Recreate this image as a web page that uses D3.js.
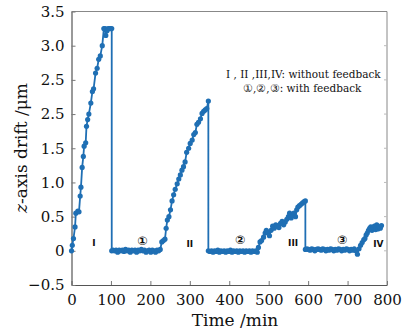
<!DOCTYPE html>
<html>
<head>
<meta charset="utf-8">
<script src="https://cdn.jsdelivr.net/npm/d3@7"></script>
<style>
  html, body { margin: 0; padding: 0; background: #fff; }
  svg { display: block; }
</style>
</head>
<body>
<div id="chart"></div>
<script>
// segments of the drift curve, [time (min), drift (um)]
const segI = [[0,0],[2,0.08],[5,0.18],[9,0.35],[11,0.55],[16,0.58],[19,0.57],[22,0.8],[24,0.93],[27,1.22],[30,1.38],[32,1.53],[36,1.58],[38,1.82],[41,1.92],[44,2.0],[49,2.16],[53,2.33],[56,2.37],[61,2.6],[65,2.67],[69,2.8],[73,2.85],[78,3.0],[82,3.25],[85,3.25],[87,3.15],[90,3.22],[93,3.25],[96,3.25],[99,3.25],[102,3.25]];
const seg1 = [[102,0],[105,0.01],[109,0],[113,0.01],[117,-0.02],[121,0.01],[125,0],[129,0.01],[133,-0.01],[137,0.02],[141,0],[145,0.01],[149,-0.02],[153,0.01],[157,0],[161,0.01],[165,-0.02],[169,0.01],[173,0],[177,0.02],[181,0],[185,0.01],[189,-0.02],[193,0],[197,0.01],[201,-0.02],[205,0.01],[209,0],[213,-0.02],[217,0.01],[221,0],[225,0.02]];
const segII = [[229,0.13],[233,0.15],[237,0.17],[240,0.33],[243,0.45],[247,0.5],[251,0.6],[255,0.73],[259,0.82],[263,0.9],[268,0.98],[272,1.05],[276,1.11],[280,1.18],[284,1.23],[288,1.3],[292,1.44],[297,1.5],[301,1.57],[306,1.62],[310,1.7],[314,1.73],[318,1.85],[322,1.88],[327,1.93],[331,2.01],[335,2.04],[339,2.06],[343,2.08],[347,2.19]];
const seg2 = [[347,0],[351,-0.01],[355,0],[359,-0.02],[363,0],[367,-0.01],[371,0.01],[375,-0.02],[379,0],[383,-0.01],[387,0],[391,-0.02],[395,0],[399,-0.01],[403,0.01],[407,-0.02],[411,0],[415,-0.01],[419,0],[423,-0.02],[427,0],[431,-0.01],[435,0],[439,-0.02],[443,0],[447,-0.01],[451,0],[455,-0.02],[459,0],[463,-0.01],[467,0],[471,-0.02]];
const segIII = [[474,0.05],[478,0.13],[482,0.15],[487,0.2],[491,0.26],[494,0.3],[498,0.27],[502,0.22],[506,0.3],[510,0.36],[514,0.33],[518,0.38],[522,0.36],[526,0.34],[530,0.4],[534,0.43],[538,0.38],[542,0.42],[546,0.46],[550,0.5],[553,0.55],[557,0.48],[561,0.52],[564,0.55],[568,0.5],[571,0.6],[574,0.64],[578,0.66],[582,0.68],[586,0.7],[590,0.72],[593,0.73]];
const seg3 = [[593,0.02],[597,0.03],[601,0.02],[605,0.01],[609,0.03],[613,0.02],[617,0],[621,0.02],[625,0.03],[629,0.02],[633,0.01],[637,0.03],[641,0.02],[645,0],[649,0.02],[653,0.01],[657,0.03],[661,0.02],[665,0],[669,0.02],[673,0.01],[677,0.03],[681,0.02],[685,0],[689,0.02],[693,0.01],[697,0.03],[701,0.02],[705,0],[709,0.02],[713,0.01],[717,0.03],[721,0],[725,-0.05]];
const segIV = [[729,0.03],[733,0.08],[737,0.12],[741,0.16],[744,0.18],[747,0.23],[750,0.26],[753,0.3],[756,0.33],[759,0.35],[762,0.3],[765,0.34],[768,0.36],[771,0.31],[774,0.38],[777,0.32],[780,0.35],[783,0.33],[786,0.37]];

const xTicks = [0, 100, 200, 300, 400, 500, 600, 700, 800];
const yTicks = [-0.5, 0, 0.5, 1.0, 1.5, 2.0, 2.5, 3.0, 3.5];
const yTickLabels = ['\u22120.5', '0', '0.5', '1.0', '1.5', '2.5', '2.5', '3.0', '3.5'];

// region labels [time, drift, text]
const romanLabels = [[57, 0.07, 'I'], [300, 0.06, 'II'], [562, 0.07, 'III'], [778, 0.05, 'IV']];
const circledLabels = [[180, 0.08, '\u2460'], [428, 0.1, '\u2461'], [687, 0.1, '\u2462']];
const legendLines = ['I , II ,III,IV: without feedback', '\u2460,\u2461,\u2462: with feedback'];

const W = 415, H = 332;
const color = '#1f6fb4';
const serif = '"DejaVu Serif", "Liberation Serif", serif';

const svg = d3.select('#chart').append('svg')
    .attr('width', W).attr('height', H)
    .attr('viewBox', `0 0 ${W} ${H}`);

const x = d3.scaleLinear().domain([0, 800]).range([71.5, 387]);
const y = d3.scaleLinear().domain([-0.5, 3.5]).range([285, 11.5]);

// frame: top/right lighter
svg.append('line').attr('x1', x(0)).attr('x2', x(800)).attr('y1', y(3.5)).attr('y2', y(3.5))
    .attr('stroke', '#888').attr('stroke-width', 1);
svg.append('line').attr('x1', x(800)).attr('x2', x(800)).attr('y1', y(3.5)).attr('y2', y(-0.5))
    .attr('stroke', '#888').attr('stroke-width', 1);

// bottom axis
const xAxis = svg.append('g').attr('transform', `translate(0,${y(-0.5)})`)
    .call(d3.axisBottom(x).tickValues(xTicks).tickSizeInner(-4).tickSizeOuter(0).tickPadding(9));
// left axis
const yAxis = svg.append('g').attr('transform', `translate(${x(0)},0)`)
    .call(d3.axisLeft(y).tickValues(yTicks).tickSizeInner(-4).tickSizeOuter(0).tickPadding(7)
        .tickFormat((d, i) => yTickLabels[i]));

[xAxis, yAxis].forEach(a => {
    a.select('.domain').attr('stroke', '#555').attr('stroke-width', 1.2);
    a.selectAll('.tick line').attr('stroke', '#777');
    a.selectAll('.tick text').attr('fill', '#111').attr('font-family', serif).attr('font-size', '15px');
});

// right side ticks
svg.append('g').selectAll('line').data(yTicks.slice(1, -1)).join('line')
    .attr('x1', x(800)).attr('x2', x(800) - 3)
    .attr('y1', d => y(d)).attr('y2', d => y(d))
    .attr('stroke', '#bbb');

// curve
const pts = [].concat(segI, seg1, segII, seg2, segIII, seg3, segIV);
const line = d3.line().x(d => x(d[0])).y(d => y(d[1]));

svg.append('path')
    .datum(pts)
    .attr('d', line)
    .attr('fill', 'none')
    .attr('stroke', color)
    .attr('stroke-width', 1.8)
    .attr('stroke-linejoin', 'round');

svg.append('g').selectAll('circle').data(pts).join('circle')
    .attr('cx', d => x(d[0])).attr('cy', d => y(d[1]))
    .attr('r', 2.6)
    .attr('fill', color);

// roman numeral labels
svg.append('g').selectAll('text').data(romanLabels).join('text')
    .attr('x', d => x(d[0])).attr('y', d => y(d[1]))
    .attr('text-anchor', 'middle')
    .attr('font-family', '"DejaVu Sans", sans-serif')
    .attr('font-size', '9px')
    .attr('font-weight', '700')
    .attr('fill', '#111')
    .text(d => d[2]);

svg.append('g').selectAll('text').data(circledLabels).join('text')
    .attr('x', d => x(d[0])).attr('y', d => y(d[1]))
    .attr('text-anchor', 'middle')
    .attr('font-family', '"DejaVu Sans", sans-serif')
    .attr('font-size', '12px')
    .attr('font-weight', '700')
    .attr('fill', '#111')
    .text(d => d[2]);

// legend note
svg.append('g').selectAll('text').data(legendLines).join('text')
    .attr('x', (d, i) => i === 0 ? 226 : 243)
    .attr('y', (d, i) => 78 + i * 14)
    .attr('font-family', serif)
    .attr('font-size', '10.5px')
    .attr('fill', '#111')
    .text(d => d);

// axis titles
svg.append('text')
    .attr('x', 235).attr('y', 326)
    .attr('text-anchor', 'middle')
    .attr('font-family', serif)
    .attr('font-size', '17px')
    .attr('fill', '#111')
    .text('Time /min');

const yt = svg.append('text')
    .attr('transform', 'translate(27,148) rotate(-90)')
    .attr('text-anchor', 'middle')
    .attr('font-family', serif)
    .attr('font-size', '17px')
    .attr('fill', '#111');
yt.append('tspan').attr('font-style', 'italic').text('z');
yt.append('tspan').text('-axis drift /\u03bcm');
</script>
</body>
</html>
